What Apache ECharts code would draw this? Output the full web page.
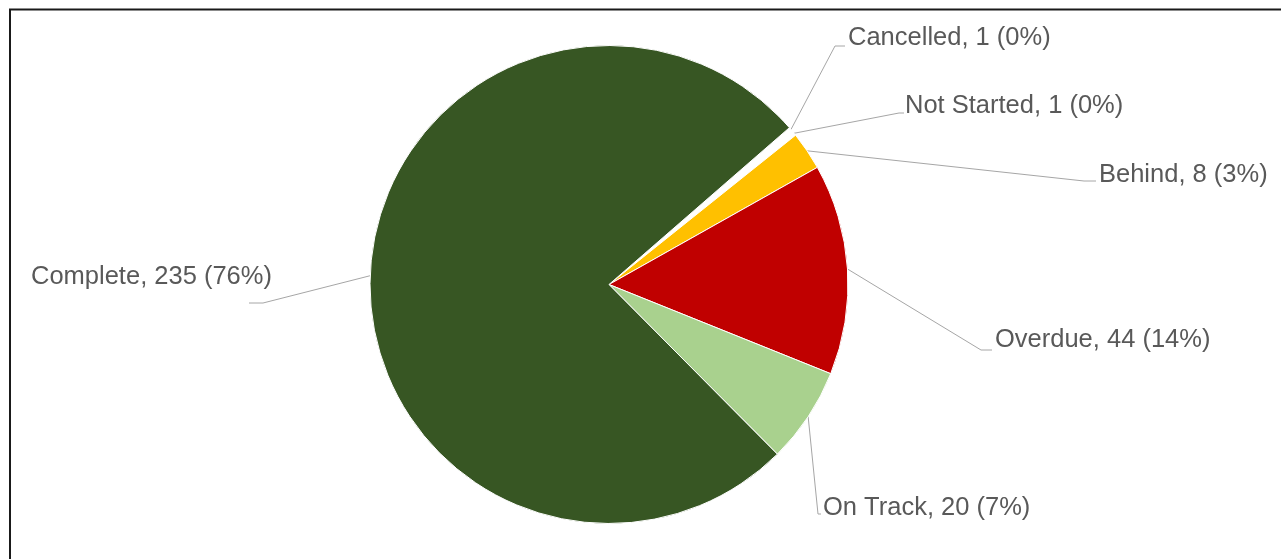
<!DOCTYPE html>
<html><head><meta charset="utf-8">
<script src="https://cdn.jsdelivr.net/npm/echarts@6/dist/echarts.min.js"></script>
<style>html,body{margin:0;padding:0;background:#fff;overflow:hidden}#c{width:1281px;height:559px}</style>
</head><body><div id="c"></div>
<script>
const categories = ['Cancelled', 'Not Started', 'Behind', 'Overdue', 'On Track', 'Complete'];
const values = [1, 1, 8, 44, 20, 235];
const colors = ['#FFFFFF', '#FFFFFF', '#FFC000', '#C00000', '#A9D18E', '#375623'];

// label placement (text left x, text middle y) and leader line bend/end points
const labelPlacement = [
  { x: 848, y: 38,  line: [[835, 46], [845, 46]], align: 'left' },
  { x: 905, y: 106, line: [[899, 113], [904, 113]], align: 'left' },
  { x: 1099, y: 175, line: [[1084, 181], [1096, 181]], align: 'left' },
  { x: 995, y: 340, line: [[981, 350], [992, 350]], align: 'left' },
  { x: 823, y: 508, line: [[818, 514], [821, 514]], align: 'left' },
  { x: 31,  y: 277, line: [[263, 303], [249, 303]], align: 'left' }
];

const chart = echarts.init(document.getElementById('c'), null, { renderer: 'canvas' });
const CX = 609, CY = 284.5, R = 239;

chart.setOption({
  animation: false,
  backgroundColor: '#ffffff',
  graphic: [{
    type: 'rect', silent: true, z: 100,
    shape: { x: 10, y: 9.5, width: 1400, height: 700 },
    style: { fill: 'none', stroke: '#1a1a1a', lineWidth: 2 }
  }],
  series: [{
    type: 'pie',
    center: [CX, CY],
    radius: R,
    startAngle: 41,
    clockwise: true,
    percentPrecision: 0,
    avoidLabelOverlap: false,
    itemStyle: { borderColor: '#ffffff', borderWidth: 1 },
    label: {
      show: true,
      position: 'outside',
      formatter: '{b}, {c} ({d}%)',
      color: '#595959',
      fontFamily: '"Liberation Sans", Arial, sans-serif',
      fontSize: 25.5
    },
    labelLine: {
      show: true, length: 20, length2: 20,
      lineStyle: { color: '#A6A6A6', width: 1 }
    },
    labelLayout: function (params) {
      const L = labelPlacement[params.dataIndex];
      let p0 = params.labelLinePoints && params.labelLinePoints[0];
      if (!p0) {
        p0 = [CX, CY];
      }
      return {
        x: L.x, y: L.y, align: L.align, verticalAlign: 'middle',
        labelLinePoints: [p0, L.line[0], L.line[1]]
      };
    },
    data: categories.map((name, i) => ({
      name: name, value: values[i], itemStyle: { color: colors[i] }
    }))
  }]
});
</script>
</body></html>
